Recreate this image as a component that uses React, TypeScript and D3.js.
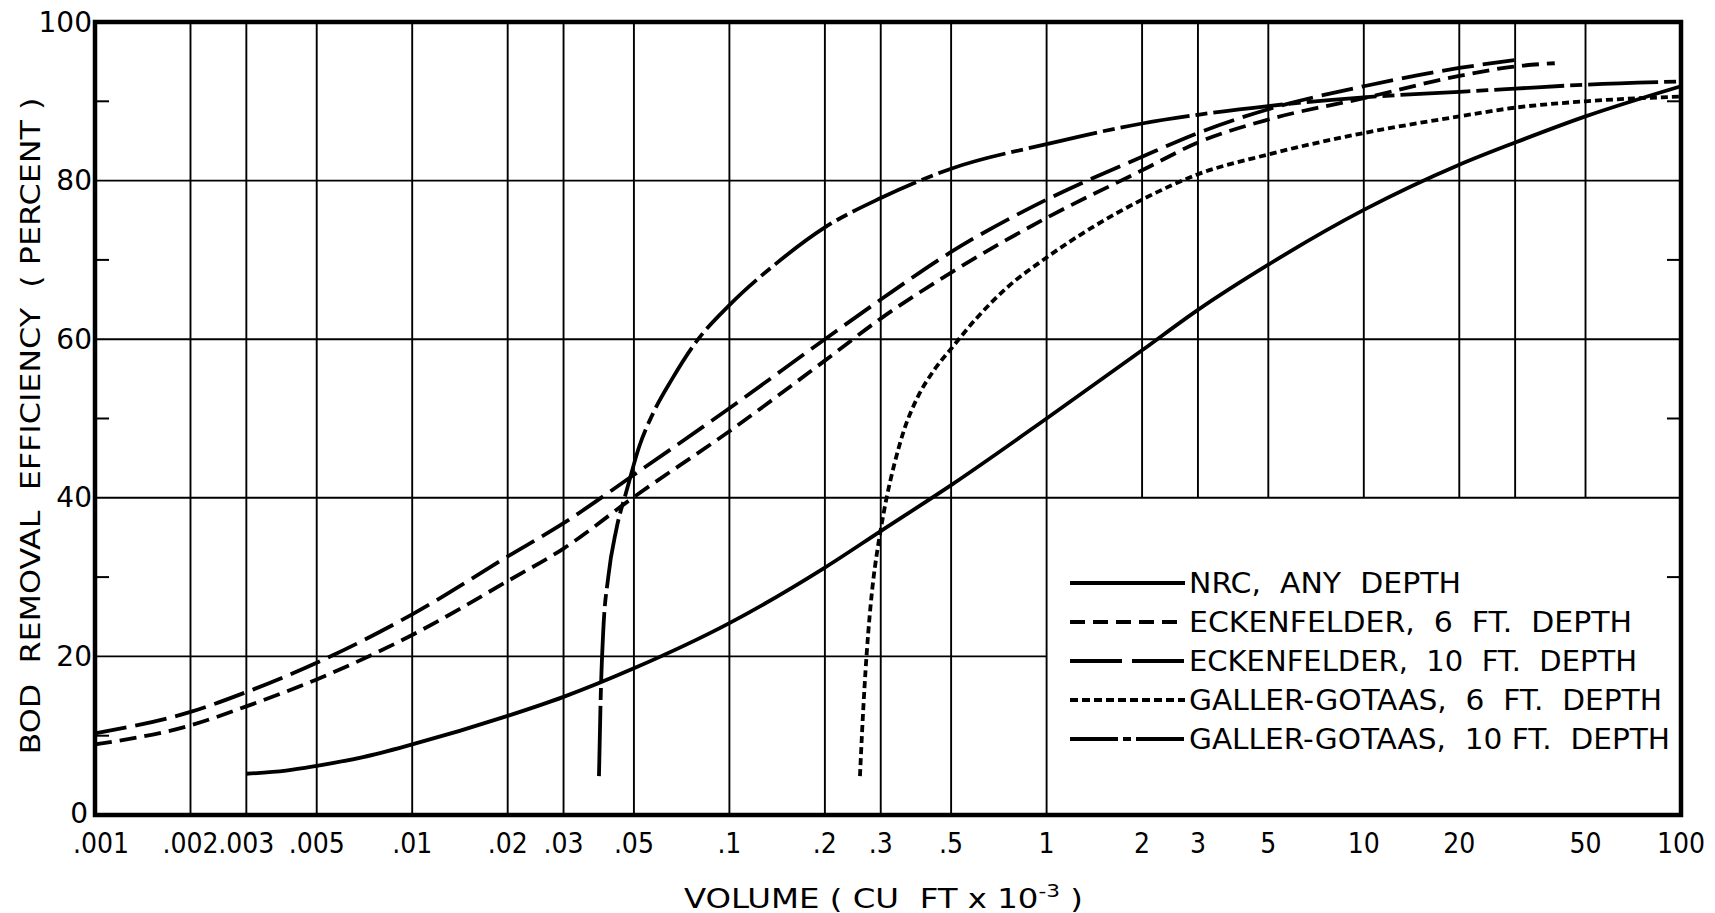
import React from "react";
import * as d3 from "d3";

// ---- data: volume (cu ft x 10^-3) vs BOD removal efficiency (percent) ----
const nrcAnyDepth: [number, number][] = [
  [0.003, 5.2], [0.004, 5.6], [0.005, 6.2], [0.007, 7.3], [0.01, 8.9], [0.02, 12.5],
  [0.03, 14.9], [0.05, 18.5], [0.1, 24.2], [0.2, 31.2], [0.3, 35.8], [0.5, 41.6], [1, 50.0],
  [2, 58.6], [3, 63.7], [5, 69.4], [10, 76.3], [20, 82.0], [30, 84.8], [50, 88.1], [100, 91.9],
];
const eckenfelder6ft: [number, number][] = [
  [0.001, 8.9], [0.002, 11.3], [0.003, 13.7], [0.005, 17.1], [0.01, 22.7], [0.02, 29.5],
  [0.03, 33.6], [0.05, 40.1], [0.1, 48.4], [0.2, 57.3], [0.3, 62.6], [0.5, 68.4], [1, 75.3],
  [2, 81.3], [3, 84.8], [5, 87.7], [10, 90.4], [20, 93.2], [30, 94.4], [40, 94.8],
];
const eckenfelder10ft: [number, number][] = [
  [0.001, 10.3], [0.002, 13.0], [0.003, 15.5], [0.005, 19.2], [0.01, 25.3], [0.02, 32.6],
  [0.03, 36.8], [0.05, 42.9], [0.1, 51.3], [0.2, 60.0], [0.3, 65.0], [0.5, 71.0], [1, 77.6],
  [2, 83.0], [3, 86.0], [5, 89.0], [10, 91.9], [20, 94.2], [30, 95.2],
];
const gallerGotaas6ft: [number, number][] = [
  [0.258, 4.9], [0.262, 10.5], [0.267, 16.5], [0.274, 23], [0.283, 29], [0.293, 33.5],
  [0.3, 36], [0.313, 40], [0.33, 44], [0.355, 48.5], [0.39, 52.5], [0.44, 56], [0.5, 58.8],
  [0.6, 62.6], [0.75, 66.5], [1, 70.3], [2, 77.6], [3, 80.8], [5, 83.3], [10, 86.0],
  [20, 88.1], [30, 89.2], [50, 90.0], [100, 90.6],
];
const gallerGotaas10ft: [number, number][] = [
  [0.0388, 4.9], [0.0393, 15], [0.04, 23], [0.0415, 30], [0.044, 36], [0.0475, 41],
  [0.052, 46.5], [0.058, 51], [0.066, 55], [0.078, 59.5], [0.1, 64.3], [0.14, 69.5],
  [0.2, 74.1], [0.3, 77.8], [0.5, 81.5], [1, 84.6], [2, 87.2], [3, 88.3], [5, 89.4],
  [10, 90.5], [20, 91.2], [30, 91.6], [50, 92.1], [100, 92.5],
];

const xTickValues = [0.001, 0.002, 0.003, 0.005, 0.01, 0.02, 0.03, 0.05, 0.1, 0.2, 0.3, 0.5, 1, 2, 3, 5, 10, 20, 50, 100];
const xTickLabels = [".001", ".002", ".003", ".005", ".01", ".02", ".03", ".05", ".1", ".2", ".3", ".5", "1", "2", "3", "5", "10", "20", "50", "100"];
const xGridValues = [0.002, 0.003, 0.005, 0.01, 0.02, 0.03, 0.05, 0.1, 0.2, 0.3, 0.5, 1, 2, 3, 5, 10, 20, 30, 50];
const yTickValues = [0, 20, 40, 60, 80, 100];
const yGridValues = [20, 40, 60, 80];
const yMinorTicksLeft = [10, 30, 50, 70, 90];
const yMinorTicksRight = [30, 50, 70, 90];

const seriesLabels = [
  "NRC,  ANY  DEPTH",
  "ECKENFELDER,  6  FT.  DEPTH",
  "ECKENFELDER,  10  FT.  DEPTH",
  "GALLER-GOTAAS,  6  FT.  DEPTH",
  "GALLER-GOTAAS,  10 FT.  DEPTH",
];

// ---- layout ----
const W = 1715;
const H = 913;
const left = 95;
const right = 1681;
const top = 22;
const bottom = 815;

const series = [
  { data: nrcAnyDepth, dash: "none", legendDash: "none", labelLen: 272 },
  { data: eckenfelder6ft, dash: "17 8", legendDash: "15 8", labelLen: 443 },
  { data: eckenfelder10ft, dash: "32 9", legendDash: "52 10", labelLen: 448 },
  { data: gallerGotaas6ft, dash: "7 4", legendDash: "8 4", labelLen: 473 },
  { data: gallerGotaas10ft, dash: "70 6 12 6", legendDash: "48 5 8 5", labelLen: 481 },
];

const condensed = "'DejaVu Sans Condensed', 'Liberation Sans Narrow', 'DejaVu Sans', sans-serif";

export default function App() {
  const x = d3.scaleLog().domain([0.001, 100]).range([left, right]);
  const y = d3.scaleLinear().domain([0, 100]).range([bottom, top]);
  const line = d3
    .line<[number, number]>()
    .x((d) => x(d[0]))
    .y((d) => y(d[1]))
    .curve(d3.curveMonotoneX);

  const legendX1 = 1070;
  const legendX2 = 1185;
  const legendRows = [583, 622, 661, 700, 739];

  return (
    <svg
      width={W}
      height={H}
      viewBox={`0 0 ${W} ${H}`}
      style={{ position: "absolute", left: 0, top: 0, background: "#fff" }}
    >
      <rect x={0} y={0} width={W} height={H} fill="#fff" />

      {/* vertical grid: lines right of 1 stop at the 40% line, leaving room for the key */}
      {xGridValues.map((v) => (
        <line
          key={`gx${v}`}
          x1={x(v)}
          x2={x(v)}
          y1={top}
          y2={v > 1 ? y(40) : bottom}
          stroke="#000"
          strokeWidth={1.9}
        />
      ))}
      {/* horizontal grid */}
      {yGridValues.map((v) => (
        <line
          key={`gy${v}`}
          x1={left}
          x2={v < 40 ? x(1) : right}
          y1={y(v)}
          y2={y(v)}
          stroke="#000"
          strokeWidth={1.9}
        />
      ))}
      {/* minor ticks */}
      {yMinorTicksLeft.map((v) => (
        <line key={`ml${v}`} x1={left} x2={left + 14} y1={y(v)} y2={y(v)} stroke="#000" strokeWidth={2} />
      ))}
      {yMinorTicksRight.map((v) => (
        <line key={`mr${v}`} x1={right - 14} x2={right} y1={y(v)} y2={y(v)} stroke="#000" strokeWidth={2} />
      ))}

      {/* frame */}
      <rect x={left} y={top} width={right - left} height={bottom - top} fill="none" stroke="#000" strokeWidth={4.5} />

      {/* curves */}
      {series.map((s, i) => (
        <path
          key={`c${i}`}
          d={line(s.data) || ""}
          fill="none"
          stroke="#000"
          strokeWidth={3.8}
          strokeDasharray={s.dash}
        />
      ))}

      {/* y tick labels */}
      {yTickValues.map((v) => (
        <text
          key={`yt${v}`}
          x={v === 0 ? 88 : 92}
          y={v === 0 ? y(v) - 2 : y(v)}
          textAnchor="end"
          dominantBaseline="central"
          fontFamily="'DejaVu Sans', sans-serif"
          fontSize={28}
          fill="#000"
        >
          {v}
        </text>
      ))}

      {/* x tick labels */}
      {xTickValues.map((v, i) => (
        <text
          key={`xt${v}`}
          x={x(v) + (i === 0 ? 6 : 0)}
          y={853}
          textAnchor="middle"
          fontFamily={condensed}
          fontStretch="condensed"
          fontSize={28}
          fill="#000"
        >
          {xTickLabels[i]}
        </text>
      ))}

      {/* axis titles */}
      <text
        x={684}
        y={908}
        textLength={399}
        lengthAdjust="spacingAndGlyphs"
        fontFamily={condensed}
        fontStretch="condensed"
        fontSize={27}
        fill="#000"
        style={{ whiteSpace: "pre" }}
      >
        {"VOLUME ( CU  FT x 10"}
        <tspan dy={-11} fontSize={18}>{"-3"}</tspan>
        <tspan dy={11}>{" )"}</tspan>
      </text>
      <text
        transform={`translate(40, 426) rotate(-90)`}
        textAnchor="middle"
        textLength={657}
        lengthAdjust="spacingAndGlyphs"
        fontFamily="'DejaVu Sans', sans-serif"
        fontSize={27}
        fill="#000"
        style={{ whiteSpace: "pre" }}
      >
        {"BOD  REMOVAL  EFFICIENCY  ( PERCENT )"}
      </text>

      {/* key */}
      {series.map((s, i) => (
        <g key={`lg${i}`}>
          <line
            x1={legendX1}
            x2={legendX2}
            y1={legendRows[i]}
            y2={legendRows[i]}
            stroke="#000"
            strokeWidth={3.8}
            strokeDasharray={s.legendDash}
          />
          <text
            x={legendX2 + 4}
            y={legendRows[i]}
            dominantBaseline="central"
            textLength={s.labelLen}
            lengthAdjust="spacingAndGlyphs"
            fontFamily={condensed}
            fontStretch="condensed"
            fontSize={28}
            fill="#000"
            style={{ whiteSpace: "pre" }}
          >
            {seriesLabels[i]}
          </text>
        </g>
      ))}
    </svg>
  );
}
